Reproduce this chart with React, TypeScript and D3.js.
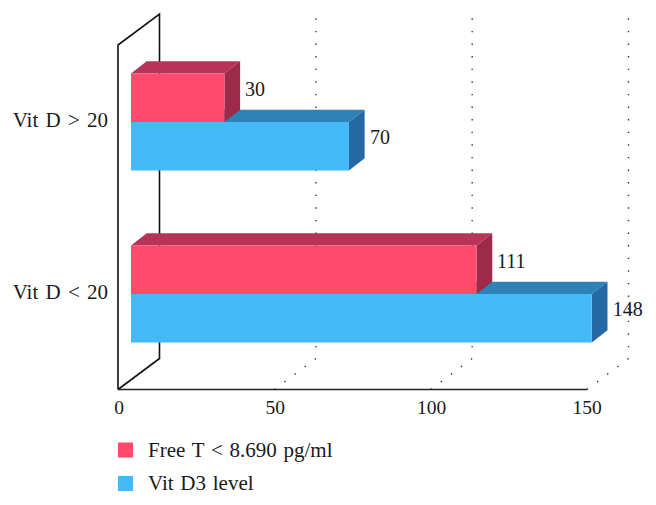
import React from "react";
import * as d3 from "d3";

const categories = ["Vit D > 20", "Vit D < 20"];
const seriesNames = ["Free T < 8.690 pg/ml", "Vit D3 level"];
const freeT = [30, 111];
const vitD3 = [70, 148];
const xTicks = [0, 50, 100, 150];
const seriesColors = [
  { front: "#FF4A6E", top: "#B83358", side: "#9C2A48" },
  { front: "#45B8F8", top: "#2E82B8", side: "#2469A3" },
];

const FONT = "'Liberation Serif', serif";
const W = 656, H = 505;
const DX = 41.5, DY = -31;
const BDX = 15.7, BDY = -12.2;
const AXIS_Y = 389.5;
const x = d3.scaleLinear().domain([0, 150]).range([118, 587]);
const barX = d3.scaleLinear().domain([0, 150]).range([131, 598]);
const y = d3.scalePoint<string>().domain(categories).range([122, 294]);
const BAR_H = 48.5;

function Bar3D({ value, top, c }: { value: number; top: number; c: typeof seriesColors[0] }) {
  const l = barX(0), r = barX(value), b = top + BAR_H;
  return (
    <g>
      <polygon points={`${l},${top} ${l + BDX},${top + BDY} ${r + BDX},${top + BDY} ${r},${top}`} fill={c.top} />
      <polygon points={`${r},${top} ${r + BDX},${top + BDY} ${r + BDX},${b + BDY} ${r},${b}`} fill={c.side} />
      <rect x={l} y={top} width={r - l} height={BAR_H} fill={c.front} />
    </g>
  );
}

export default function App() {
  const x0 = x(0);
  const wallTop = 45;
  return (
    <svg width={W} height={H} style={{ position: "absolute", left: 0, top: 0 }} fontFamily={FONT} fill="#1a1a1a">
      {/* dotted grid */}
      {xTicks.slice(1).map((t) => (
        <path
          key={t}
          d={`M${x(t)},${AXIS_Y} L${x(t) + DX},${AXIS_Y + DY} L${x(t) + DX},${wallTop + DY + 4}`}
          fill="none"
          stroke="#333"
          strokeWidth={1.4}
          strokeDasharray="1.4 11.2"
        />
      ))}
      {/* back wall */}
      <path
        d={`M${x0},${AXIS_Y} L${x0},${wallTop} L${x0 + DX},${wallTop + DY} L${x0 + DX},${AXIS_Y + DY} L${x0},${AXIS_Y}`}
        fill="none"
        stroke="#111"
        strokeWidth={1.6}
      />
      <line x1={x0} x2={x(150)} y1={AXIS_Y} y2={AXIS_Y} stroke="#222" strokeWidth={1.6} />
      {/* bars: the lower series is drawn first so the upper one sits in front of its top face */}
      {categories.map((cat, i) => {
        const mid = y(cat)!;
        return (
          <g key={cat}>
            <Bar3D value={vitD3[i]} top={mid} c={seriesColors[1]} />
            <Bar3D value={freeT[i]} top={mid - BAR_H} c={seriesColors[0]} />
            <text x={barX(freeT[i]) + 20.5} y={mid - 31} fontSize={20} dominantBaseline="middle">{freeT[i]}</text>
            <text x={barX(vitD3[i]) + 21} y={mid + 17} fontSize={20} dominantBaseline="middle">{vitD3[i]}</text>
            <text x={108} y={mid + 5} fontSize={21} textAnchor="end" style={{ wordSpacing: "2px" }}>{cat}</text>
          </g>
        );
      })}
      {/* x axis labels */}
      {xTicks.map((t) => (
        <text key={t} x={x(t) + (t === 150 ? 0 : 1)} y={414} fontSize={19.5} textAnchor="middle">{t}</text>
      ))}
      {/* legend */}
      {seriesNames.map((n, i) => (
        <g key={n}>
          <rect x={118} y={442.5 + i * 33.5} width={15} height={15} fill={seriesColors[i].front} />
          <text x={148} y={457 + i * 32.5} fontSize={21} style={{ wordSpacing: "1.5px" }}>{n}</text>
        </g>
      ))}
    </svg>
  );
}
